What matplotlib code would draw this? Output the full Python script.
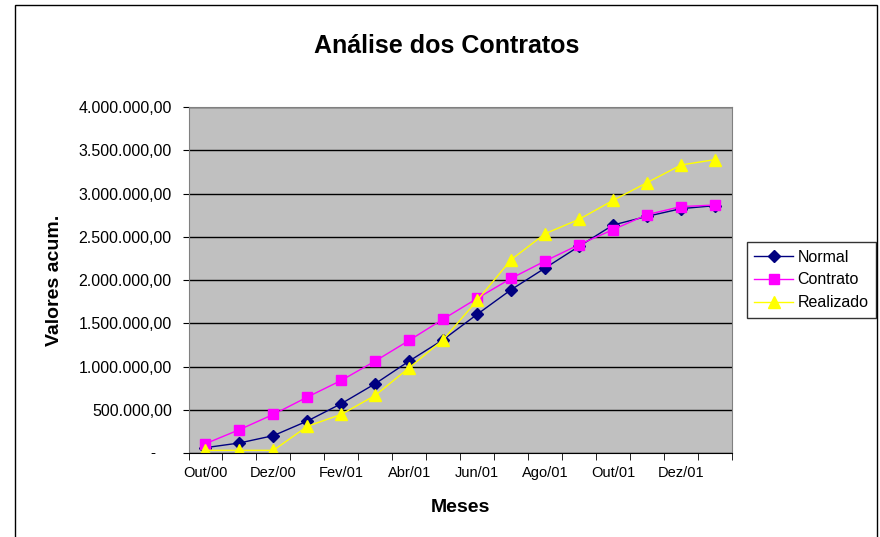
import matplotlib.pyplot as plt
from matplotlib.patches import Rectangle
from matplotlib.ticker import FuncFormatter, FixedLocator

plt.rcParams['font.family'] = ['Liberation Sans', 'DejaVu Sans']

meses = ["Out/00", "Nov/00", "Dez/00", "Jan/01", "Fev/01", "Mar/01", "Abr/01", "Mai/01",
         "Jun/01", "Jul/01", "Ago/01", "Set/01", "Out/01", "Nov/01", "Dez/01", "Jan/02"]

normal = [62000, 116000, 201000, 370000, 571000, 802000, 1064000, 1311000,
          1604000, 1889000, 2139000, 2390000, 2636000, 2736000, 2825000, 2860000]
contrato = [108000, 270000, 447000, 647000, 840000, 1064000, 1303000, 1549000,
            1788000, 2020000, 2220000, 2409000, 2583000, 2756000, 2849000, 2867000]
realizado = [31000, 31000, 31000, 309000, 447000, 667000, 987000, 1311000,
             1765000, 2236000, 2536000, 2702000, 2921000, 3126000, 3330000, 3392000]

yticks = [0, 500000, 1000000, 1500000, 2000000, 2500000, 3000000, 3500000, 4000000]


def fmt_br(v, pos=None):
    if v == 0:
        return ""
    s = "{:,.2f}".format(v)
    return s.replace(",", "X").replace(".", ",").replace("X", ".")


fig = plt.figure(figsize=(8.8, 5.37), dpi=100)
ax = fig.add_axes([188.5 / 880, 0.1564, 543.5 / 880, 0.6443])
ax.set_facecolor("#C0C0C0")

x = list(range(len(meses)))
ax.plot(x, normal, color="#000080", marker="D", markersize=6, linewidth=1, label="Normal")
ax.plot(x, contrato, color="#FF00FF", marker="s", markersize=7.5, linewidth=1, label="Contrato")
ax.plot(x, realizado, color="#FFFF00", marker="^", markersize=8, linewidth=1, label="Realizado")

ax.set_xlim(-0.5, len(meses) - 0.5)
ax.set_ylim(0, 4000000)
ax.set_yticks(yticks)
ax.yaxis.set_major_formatter(FuncFormatter(fmt_br))
ax.grid(axis="y", color="black", linewidth=1)
ax.set_axisbelow(True)

ax.xaxis.set_major_locator(FixedLocator(x[::2]))
ax.set_xticklabels(meses[::2])
ax.xaxis.set_minor_locator(FixedLocator([i - 0.5 for i in range(len(meses) + 1)]))
ax.tick_params(axis="x", which="major", length=0, pad=9, labelsize=10.5)
ax.tick_params(axis="x", which="minor", length=5, direction="out", color="black")
ax.tick_params(axis="y", length=4, direction="out", pad=8, labelsize=11.5)

# zero shown as dash, Excel accounting style
ax.text(-0.066, 0, "-", transform=ax.get_yaxis_transform(), ha="center", va="center", fontsize=11)

for side in ["top", "right", "left"]:
    ax.spines[side].set_color("#808080")
ax.spines["bottom"].set_color("black")

ax.set_xlabel("Meses", fontsize=14, fontweight="bold", labelpad=14)
ax.set_ylabel("Valores acum.", fontsize=14, fontweight="bold", labelpad=11)
fig.text(0.508, 0.915, "Análise dos Contratos", ha="center", va="center", fontsize=18, fontweight="bold")

leg = ax.legend(loc="center left", bbox_to_anchor=(747 / 880, 1 - 280 / 537), bbox_transform=fig.transFigure,
                frameon=True, fancybox=False, fontsize=11.5, handlelength=2.45, borderpad=0.45,
                labelspacing=0.5, handletextpad=0.25, borderaxespad=0)
leg.get_frame().set_edgecolor("black")
leg.get_frame().set_linewidth(1)

fig.patches.append(Rectangle((15 / 880, -0.05), 862 / 880, 1.05 - 5 / 537, transform=fig.transFigure,
                             fill=False, edgecolor="black", linewidth=1))

fig.savefig("out.png", dpi=100)
